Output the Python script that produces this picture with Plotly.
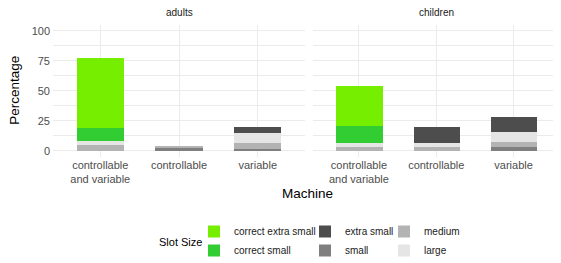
import plotly.graph_objects as go

W, H = 561, 263
OFF = 8  # page body margin offset

machines = ["controllable<br>and variable", "controllable", "variable"]
groups = ["adults", "children"]
slot_sizes = ["small", "medium", "large", "extra small", "correct small", "correct extra small"]
colors = {
    "correct extra small": "#76EE00",
    "correct small": "#32CD32",
    "extra small": "#4D4D4D",
    "small": "#7F7F7F",
    "medium": "#B3B3B3",
    "large": "#E5E5E5",
}

# percentages per slot size, order of machines
adults = {
    "small": [0, 3.3, 1.4],
    "medium": [4.75, 0.8, 5.0],
    "large": [3.3, 0, 8.4],
    "extra small": [0, 0, 5.0],
    "correct small": [11.5, 0, 0],
    "correct extra small": [58.2, 0, 0],
}
children = {
    "small": [0, 0, 3.1],
    "medium": [3.1, 3.1, 4.1],
    "large": [3.3, 3.3, 8.4],
    "extra small": [0, 13.4, 12.4],
    "correct small": [14.2, 0, 0],
    "correct extra small": [33.3, 0, 0],
}

legend_of = {
    "correct extra small": ("legend", 1), "correct small": ("legend", 2),
    "extra small": ("legend2", 3), "small": ("legend2", 4),
    "medium": ("legend3", 5), "large": ("legend3", 6),
}

fig = go.Figure()
for s in slot_sizes:
    lg, rank = legend_of[s]
    for g, data, xa, ya in [("adults", adults, "x", "y"), ("children", children, "x2", "y2")]:
        fig.add_trace(go.Bar(
            x=machines, y=data[s], xaxis=xa, yaxis=ya,
            name=s, marker=dict(color=colors[s], line=dict(width=0)),
            width=0.6, legend=lg, legendrank=rank, legendgroup=s,
            showlegend=(g == "adults"), hoverinfo="skip",
        ))

grid = "#EBEBEB"
tickfont = dict(family="Liberation Sans, Arial, sans-serif", size=11, color="#4D4D4D")


def px_x(p):
    return (p - OFF) / W


def px_y(p):
    return 1 - (p - OFF) / H


xcommon = dict(showgrid=True, gridcolor=grid, gridwidth=1, zeroline=False, showline=False,
               ticks="", tickfont=tickfont, range=[-0.6, 2.6], fixedrange=True,
               categoryorder="array", categoryarray=machines)
ycommon = dict(domain=[px_y(156.7), px_y(24.7)], range=[-5, 105], tickvals=[0, 25, 50, 75, 100],
               showgrid=True, gridcolor=grid, gridwidth=1, zeroline=False, showline=False,
               ticks="", tickfont=tickfont, ticklabelstandoff=2,
               minor=dict(tickvals=[12.5, 37.5, 62.5, 87.5], showgrid=True, gridcolor=grid, gridwidth=0.6),
               fixedrange=True)
legcommon = dict(xanchor="left", yanchor="top", orientation="v", traceorder="normal",
                 font=dict(size=10, color="#1A1A1A"), itemwidth=30, tracegroupgap=4,
                 bgcolor="rgba(0,0,0,0)")

fig.update_layout(
    width=W, height=H,
    margin=dict(l=0, r=0, t=0, b=0),
    paper_bgcolor="white", plot_bgcolor="white",
    barmode="stack", bargap=0,
    font=dict(family="Liberation Sans, Arial, sans-serif", color="#1A1A1A"),
    xaxis=dict(domain=[px_x(53), px_x(305)], anchor="y", **xcommon),
    xaxis2=dict(domain=[px_x(312.5), px_x(560)], anchor="y2", **xcommon),
    yaxis=dict(anchor="x", **ycommon),
    yaxis2=dict(anchor="x2", showticklabels=False, **ycommon),
    showlegend=True,
    legend=dict(x=px_x(194), y=px_y(217), **legcommon),
    legend2=dict(x=px_x(305), y=px_y(217), **legcommon),
    legend3=dict(x=px_x(384), y=px_y(217), **legcommon),
)

ann = [
    dict(text="adults", x=px_x(179), y=px_y(12.5), font=dict(size=10, color="#1A1A1A")),
    dict(text="children", x=px_x(436), y=px_y(12.5), font=dict(size=10, color="#1A1A1A")),
    dict(text="Machine", x=px_x(307), y=px_y(193), font=dict(size=13.5, color="#000000")),
    dict(text="Percentage", x=px_x(15), y=px_y(90.7), textangle=-90, font=dict(size=13.5, color="#000000")),
    dict(text="Slot Size", x=px_x(181), y=px_y(242), font=dict(size=11, color="#000000")),
]
for a in ann:
    fig.add_annotation(xref="paper", yref="paper", showarrow=False, xanchor="center", yanchor="middle", **a)

fig.write_html("out.html")
